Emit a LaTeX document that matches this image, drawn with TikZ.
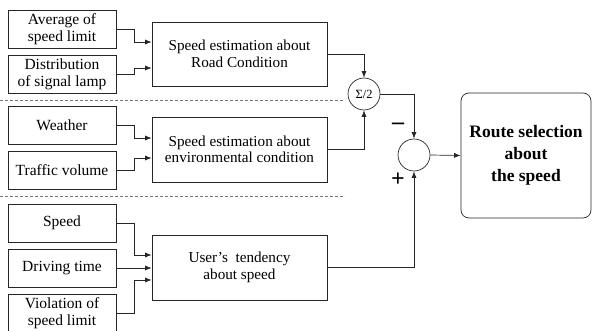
\documentclass[tikz,border=0pt]{standalone}
\usepackage{fontspec}
\setmainfont{Liberation Serif}
\usetikzlibrary{arrows.meta}
\begin{document}
\begin{tikzpicture}[
  x=1pt, y=-1pt,
  every node/.style={draw=black!85, line width=0.7pt, rectangle, align=center, inner sep=1pt},
  inbox/.style={minimum width=108pt, minimum height=38pt, font=\fontsize{15.5}{17}\selectfont},
  estbox/.style={minimum width=175pt, minimum height=64pt, font=\fontsize{15.2}{16.5}\selectfont},
  sumnode/.style={circle, minimum size=32pt, inner sep=0pt, font=\fontsize{12.5}{13}\selectfont},
  signlabel/.style={draw=none, font=\fontsize{24}{24}\selectfont\bfseries},
  conn/.style={draw=black!85, line width=0.7pt, -{Latex[length=6.5pt,width=5pt]}},
  sep/.style={draw=black!55, line width=0.7pt, dash pattern=on 3pt off 2pt}
]
\useasboundingbox (0,0) rectangle (592,331);

% inputs
\node[inbox] (avg) at (62,29.5) {Average of\\speed limit};
\node[inbox] (lamp) at (62,74) {Distribution\\of signal lamp};
\node[inbox] (weather) at (62,125.5) {Weather};
\node[inbox] (traffic) at (62,170.5) {Traffic volume};
\node[inbox] (speed) at (62,223) {Speed};
\node[inbox] (driving) at (62,268) {Driving time};
\node[inbox, minimum height=39pt] (violation) at (62,313.5) {Violation of\\speed limit};

% estimations
\node[estbox] (road) at (239.5,54) {Speed estimation about\\Road Condition};
\node[estbox, minimum height=65pt] (env) at (239.5,149.5) {Speed estimation about\\environmental condition};
\node[estbox, minimum height=65pt] (user) at (239.5,267.5) {User’s\ \ tendency\\about speed};

% sums
\node[sumnode] (half) at (364,94) {Σ/2};
\node[sumnode] (diff) at (414,155) {};
\node[signlabel] (minus) at (398,126) {–};
\node[signlabel] (plus) at (398,180) {+};

\node[rounded corners=8pt, minimum width=130pt, minimum height=125pt,
      font=\fontsize{17.5}{22}\selectfont\bfseries] (route) at (526,155.5)
  {Route selection\\about\\the speed};

% separators
\draw[sep] (0,100) -- (345,100);
\draw[sep] (0,196) -- (345,196);

% connectors
\draw[conn] (avg.east) -- ++(18,0) |- ([yshift=12pt]road.west);
\draw[conn] (lamp.east) -- ++(18,0) |- ([yshift=-14pt]road.west);
\draw[conn] (weather.east) -- ++(18,0) |- ([yshift=11.5pt]env.west);
\draw[conn] (traffic.east) -- ++(18,0) |- ([yshift=-8.5pt]env.west);
\draw[conn] (speed.east) -- ++(18,0) |- ([yshift=12.5pt]user.west);
\draw[conn] (driving.east) -- (user.west |- driving.east);
\draw[conn] (violation.east) -- ++(18,0) |- ([yshift=-12.5pt]user.west);
\draw[conn] (road.east) -| (half.north);
\draw[conn] (env.east) -| (half.south);
\draw[conn] (half.east) -| (diff.north);
\draw[conn] (user.east) -| (diff.south);
\draw[conn] (diff.east) -- (route.west);

\end{tikzpicture}
\end{document}
